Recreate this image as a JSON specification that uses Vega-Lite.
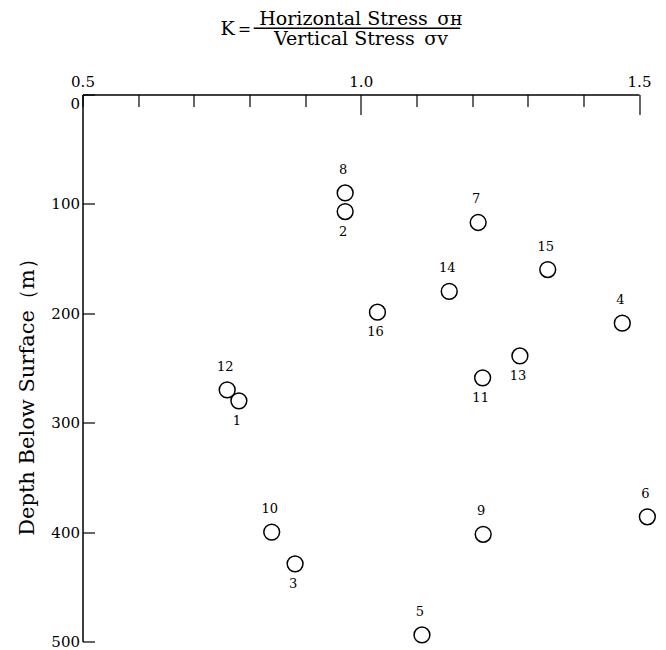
{
  "$schema": "https://vega.github.io/schema/vega-lite/v6.json",
  "autosize": "none",
  "width": 556.5,
  "height": 547,
  "padding": {"left": 82.5, "top": 94.5, "right": 27, "bottom": 8.5},
  "background": "white",
  "config": {
    "view": {"stroke": null},
    "axis": {
      "grid": false,
      "domainColor": "black",
      "domainWidth": 1.5,
      "tickColor": "black",
      "tickWidth": 1.2,
      "labelColor": "black",
      "labelFont": "DejaVu Serif",
      "labelFontSize": 15,
      "titleFont": "DejaVu Serif",
      "titleFontSize": 19,
      "titleFontWeight": "normal",
      "titleColor": "black"
    }
  },
  "data": {
    "values": [
      {"id": 1, "K": 0.781, "depth": 280},
      {"id": 2, "K": 0.972, "depth": 107},
      {"id": 3, "K": 0.882, "depth": 429},
      {"id": 4, "K": 1.470, "depth": 209},
      {"id": 5, "K": 1.110, "depth": 494},
      {"id": 6, "K": 1.515, "depth": 386},
      {"id": 7, "K": 1.211, "depth": 117},
      {"id": 8, "K": 0.972, "depth": 90},
      {"id": 9, "K": 1.220, "depth": 402},
      {"id": 10, "K": 0.840, "depth": 400},
      {"id": 11, "K": 1.219, "depth": 259},
      {"id": 12, "K": 0.760, "depth": 270},
      {"id": 13, "K": 1.286, "depth": 239},
      {"id": 14, "K": 1.159, "depth": 180},
      {"id": 15, "K": 1.336, "depth": 160},
      {"id": 16, "K": 1.030, "depth": 199}
    ]
  },
  "encoding": {
    "x": {
      "field": "K",
      "type": "quantitative",
      "scale": {"domain": [0.5, 1.5], "nice": false, "zero": false},
      "axis": {
        "orient": "top",
        "values": [0.5, 0.6, 0.7, 0.8, 0.9, 1.0, 1.1, 1.2, 1.3, 1.4, 1.5],
        "labelExpr": "abs(datum.value * 2 - round(datum.value * 2)) < 0.001 ? format(datum.value, '.1f') : ''",
        "labelFlush": false,
        "labelOverlap": false,
        "labelAngle": 0,
        "labelPadding": {"condition": {"test": "abs(datum.value - 1) < 0.001 || abs(datum.value - 1.5) < 0.001", "value": 25}, "value": 17},
        "tickSize": {"condition": {"test": "abs(datum.value - 1) < 0.001 || abs(datum.value - 1.5) < 0.001", "value": -20}, "value": -12},
        "title": ["Horizontal Stress\u2002σʜ", "K＝──────────────────\u2800\u2800\u2800", "Vertical Stress\u2002σᴠ"],
        "titleLineHeight": 10,
        "titleBaseline": "alphabetic",
        "titleAlign": "center",
        "titleY": -70,
        "titleX": 278
      }
    },
    "y": {
      "field": "depth",
      "type": "quantitative",
      "scale": {"domain": [0, 500], "reverse": true, "nice": false, "zero": false},
      "axis": {
        "values": [0, 100, 200, 300, 400, 500],
        "tickSize": -12,
        "labelPadding": 15,
        "labelFlush": false,
        "labelOffset": {"condition": {"test": "datum.value == 0", "value": 9}, "value": 0},
        "title": "Depth Below Surface（m）",
        "titleFontSize": 21,
        "titleAngle": -90,
        "titleAlign": "center",
        "titleBaseline": "middle",
        "titleX": -55,
        "titleY": 297
      }
    }
  },
  "layer": [
    {
      "mark": {"type": "point", "shape": "circle", "filled": false, "size": 250, "strokeWidth": 1.5, "color": "black", "opacity": 1, "clip": false}
    },
    {
      "transform": [{"filter": "indexof([2, 16, 13, 11, 1, 3], datum.id) < 0"}],
      "mark": {"type": "text", "font": "DejaVu Serif", "fontSize": 13, "color": "black", "baseline": "middle", "align": "center", "dy": -23, "dx": -2},
      "encoding": {"text": {"field": "id", "type": "nominal"}}
    },
    {
      "transform": [{"filter": "indexof([2, 16, 13, 11, 1, 3], datum.id) >= 0"}],
      "mark": {"type": "text", "font": "DejaVu Serif", "fontSize": 13, "color": "black", "baseline": "middle", "align": "center", "dy": 20, "dx": -2},
      "encoding": {"text": {"field": "id", "type": "nominal"}}
    }
  ]
}
